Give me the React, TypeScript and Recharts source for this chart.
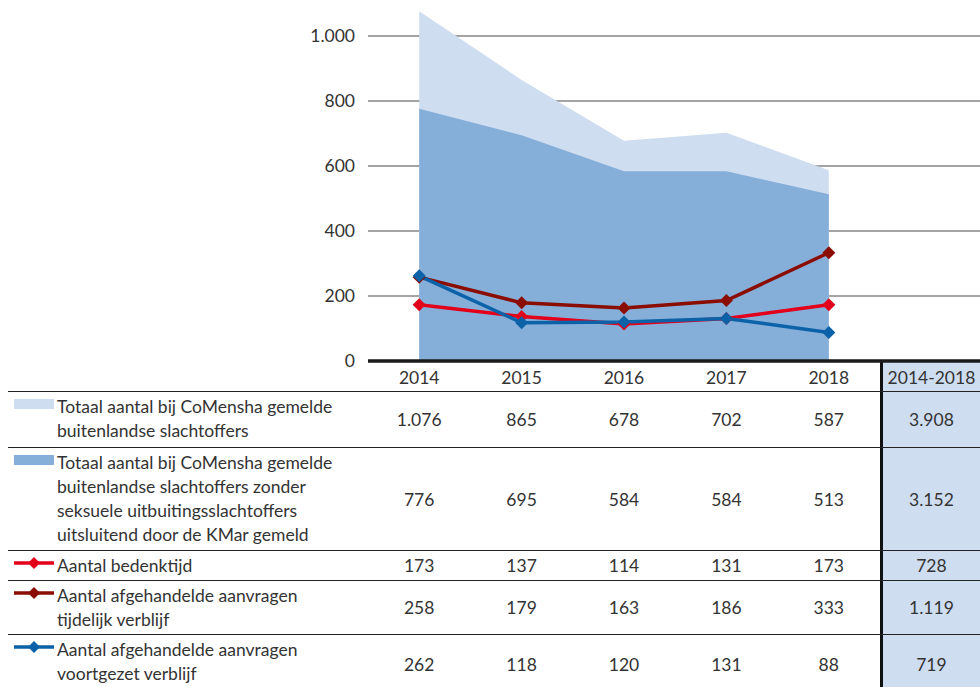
import { ComposedChart, Area, Line, XAxis, YAxis, CartesianGrid } from "recharts";

const years = ["2014", "2015", "2016", "2017", "2018"];
const totaalGemeld = [1076, 865, 678, 702, 587];
const zonderKMar = [776, 695, 584, 584, 513];
const bedenktijd = [173, 137, 114, 131, 173];
const tijdelijk = [258, 179, 163, 186, 333];
const voortgezet = [262, 118, 120, 131, 88];
const yTicks = [0, 200, 400, 600, 800, 1000];
const totalHeader = "2014-2018";

const seriesLabels = [
  "Totaal aantal bij CoMensha gemelde\nbuitenlandse slachtoffers",
  "Totaal aantal bij CoMensha gemelde\nbuitenlandse slachtoffers zonder\nseksuele uitbuitingsslachtoffers\nuitsluitend door de KMar gemeld",
  "Aantal bedenktijd",
  "Aantal afgehandelde aanvragen\ntijdelijk verblijf",
  "Aantal afgehandelde aanvragen\nvoortgezet verblijf",
];

const LIGHT = "#cfddf1";
const MID = "#85aed9";
const RED = "#e2001a";
const DARKRED = "#8b0d02";
const BLUE = "#0b62a8";

const FONT = "Lato, 'Noto Sans', sans-serif";
const TEXT = "#333";
const FS = 17.5;

const data = years.map((y, i) => ({
  year: y,
  totaal: totaalGemeld[i],
  zonder: zonderKMar[i],
  bedenk: bedenktijd[i],
  tijd: tijdelijk[i],
  voort: voortgezet[i],
}));

const rows = [
  { values: totaalGemeld, kind: "area", color: LIGHT },
  { values: zonderKMar, kind: "area", color: MID },
  { values: bedenktijd, kind: "line", color: RED },
  { values: tijdelijk, kind: "line", color: DARKRED },
  { values: voortgezet, kind: "line", color: BLUE },
];

// row heights of the table, header first
const rowHeights = [30, 56, 103, 30, 54, 60];

const fmt = (n: number) => String(n).replace(/\B(?=(\d{3})+(?!\d))/g, ".");

const diamondPath = (cx: number, cy: number, r: number) =>
  `M${cx},${cy - r} L${cx + r},${cy} L${cx},${cy + r} L${cx - r},${cy} Z`;

const makeDot = (color: string) => (p: any) =>
  <path key={p.index} d={diamondPath(p.cx, p.cy, 6.5)} fill={color} />;

const Swatch = ({ kind, color }: { kind: string; color: string }) => (
  <svg width={42} height={14} style={{ position: "absolute", left: 6, top: 5 }}>
    {kind === "area" ? (
      <rect x={0} y={2} width={40} height={10} fill={color} />
    ) : (
      <g>
        <line x1={0} x2={40} y1={7} y2={7} stroke={color} strokeWidth={3.5} />
        <path d={diamondPath(20, 7, 6)} fill={color} />
      </g>
    )}
  </svg>
);

const COL0 = 360;
const COLW = 102.4;
const TOTW = 100;

export default function App() {
  const border = "1.5px solid #222";
  return (
    <div
      style={{
        position: "absolute",
        left: 0,
        top: 0,
        width: 980,
        height: 687,
        overflow: "hidden",
        background: "#fff",
        fontFamily: FONT,
        color: TEXT,
      }}
    >
      {/* table */}
      <div style={{ position: "absolute", left: 8, top: 361, width: 972 }}>
        <div style={{ display: "flex", height: rowHeights[0] }}>
          <div style={{ width: COL0 }} />
          {years.map((y) => (
            <div
              key={y}
              style={{ width: COLW, textAlign: "center", fontSize: FS, lineHeight: "33px" }}
            >
              {y}
            </div>
          ))}
          <div
            style={{
              width: TOTW,
              boxSizing: "border-box",
              background: LIGHT,
              borderLeft: "3px solid #111",
              textAlign: "center",
              fontSize: FS,
              lineHeight: "33px",
            }}
          >
            {totalHeader}
          </div>
        </div>
        {rows.map((r, ri) => (
          <div
            key={ri}
            style={{ display: "flex", height: rowHeights[ri + 1], borderTop: border, boxSizing: "border-box" }}
          >
            <div
              style={{
                width: COL0,
                position: "relative",
                boxSizing: "border-box",
                paddingLeft: 49,
                paddingTop: 3,
                fontSize: FS,
                lineHeight: "24px",
                whiteSpace: "pre-line",
              }}
            >
              <Swatch kind={r.kind} color={r.color} />
              {seriesLabels[ri]}
            </div>
            {r.values.map((v, i) => (
              <div
                key={i}
                style={{
                  width: COLW,
                  display: "flex",
                  alignItems: "center",
                  justifyContent: "center",
                  fontSize: FS,
                }}
              >
                {fmt(v)}
              </div>
            ))}
            <div
              style={{
                width: TOTW,
                boxSizing: "border-box",
                background: LIGHT,
                borderLeft: "3px solid #111",
                display: "flex",
                alignItems: "center",
                justifyContent: "center",
                fontSize: FS,
              }}
            >
              {fmt(r.values.reduce((a, b) => a + b, 0))}
            </div>
          </div>
        ))}
      </div>

      {/* chart */}
      <div style={{ position: "absolute", left: 0, top: 0 }}>
        <ComposedChart
          width={980}
          height={391}
          data={data}
          margin={{ top: 10, right: 0, bottom: 0, left: 0 }}
        >
          <CartesianGrid
            vertical={false}
            horizontalValues={yTicks.filter((t) => t > 0)}
            stroke="#4a4a4a"
            strokeWidth={1.2}
          />
          <XAxis
            dataKey="year"
            height={30}
            tick={false}
            tickLine={false}
            axisLine={{ stroke: "#1a1a1a", strokeWidth: 3.5 }}
            padding={{ left: 51.2, right: 151.2 }}
          />
          <YAxis
            width={368}
            domain={[0, 1080]}
            ticks={yTicks}
            interval={0}
            allowDataOverflow
            axisLine={false}
            tickLine={false}
            tickSize={0}
            tickMargin={13}
            tickFormatter={fmt}
            tick={{ fill: TEXT, fontSize: FS, fontFamily: FONT }}
          />
          <Area dataKey="totaal" type="linear" fill={LIGHT} fillOpacity={1} stroke="none" isAnimationActive={false} />
          <Area dataKey="zonder" type="linear" fill={MID} fillOpacity={1} stroke="none" isAnimationActive={false} />
          <Line dataKey="bedenk" type="linear" stroke={RED} strokeWidth={3.5} dot={makeDot(RED)} activeDot={false} isAnimationActive={false} />
          <Line dataKey="tijd" type="linear" stroke={DARKRED} strokeWidth={3.5} dot={makeDot(DARKRED)} activeDot={false} isAnimationActive={false} />
          <Line dataKey="voort" type="linear" stroke={BLUE} strokeWidth={3.5} dot={makeDot(BLUE)} activeDot={false} isAnimationActive={false} />
        </ComposedChart>
      </div>
    </div>
  );
}
